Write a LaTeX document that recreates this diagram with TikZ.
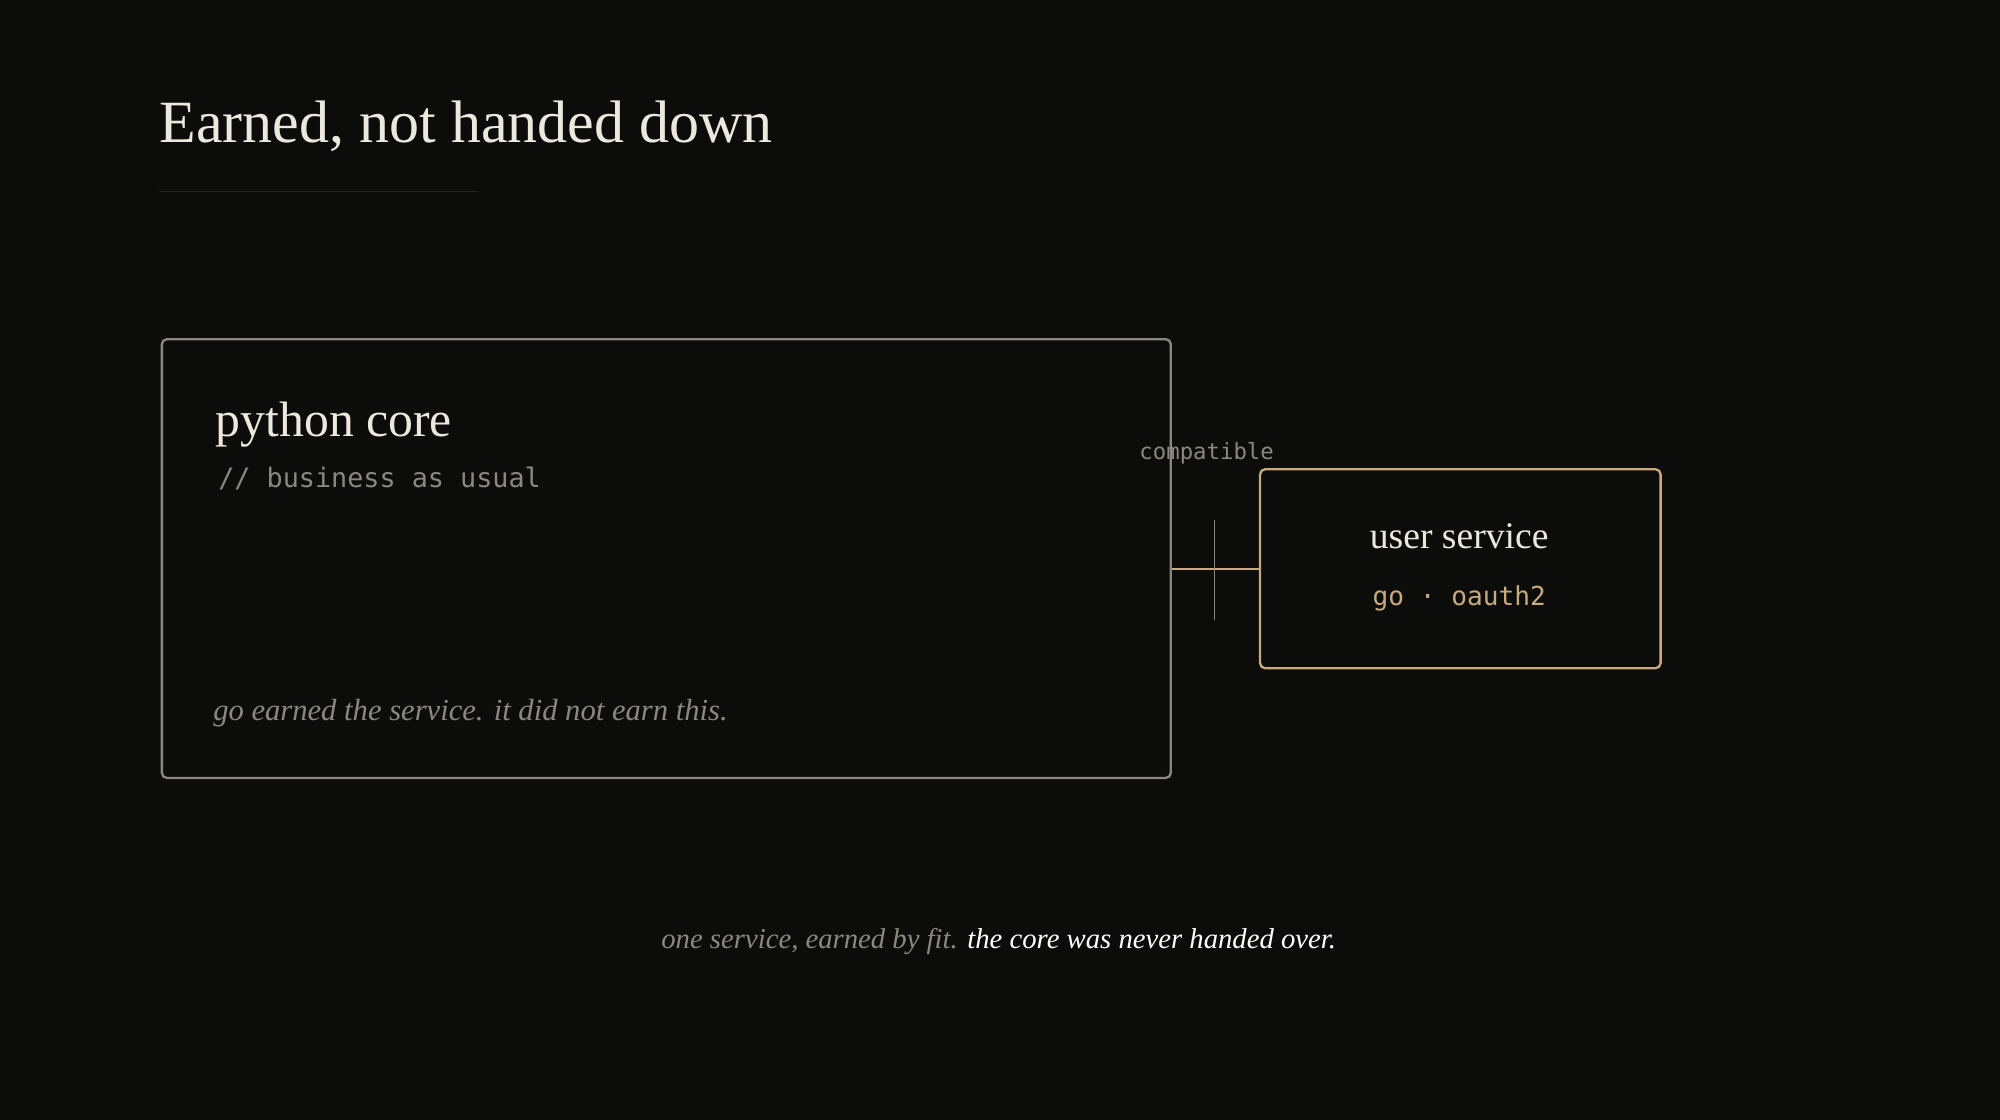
\documentclass[tikz,border=0pt]{standalone}
\usepackage{fontspec}
\setmainfont{Liberation Serif}
\setmonofont{DejaVu Sans Mono}
\definecolor{bg}{HTML}{0C0C0A}
\definecolor{ink}{HTML}{ECE8DE}
\definecolor{dim}{HTML}{8C8880}
\definecolor{tan}{HTML}{C8AA80}
\definecolor{rule}{HTML}{262522}
\begin{document}
\begin{tikzpicture}[x=1pt,y=-1pt,
  txt/.style={inner sep=0pt,anchor=base west},
  boxgray/.style={draw=dim,line width=1.8pt,rounded corners=4pt},
  boxtan/.style={draw=tan,line width=1.8pt,rounded corners=4pt}]
\fill[bg] (0,0) rectangle (1568,878);
\useasboundingbox (0,0) rectangle (1568,878);
\node[txt,text=ink,font=\fontsize{47}{50}\selectfont] (title) at (125,112) {Earned, not handed down};
\coordinate (r1) at (125,150); \coordinate (r2) at (375,150);
\draw[rule,line width=1pt] (r1) -- (r2);
\node[boxgray,minimum width=791pt,minimum height=344pt,anchor=north west,inner sep=0pt] (core) at (126,265) {};
\node[txt,text=ink,font=\fontsize{39}{42}\selectfont] (pc) at (169,342) {python core};
\node[txt,text=dim,font=\ttfamily\fontsize{21}{24}\selectfont] (bau) at (171,382) {// business as usual};
\node[txt,text=dim,font=\itshape\fontsize{24}{28}\selectfont] (earn) at (167,565) {go earned the service. it did not earn this.};
\node[boxtan,minimum width=314pt,minimum height=156pt,anchor=north west,inner sep=0pt] (us) at (987,367) {};
\node[inner sep=0pt,anchor=base,text=ink,font=\fontsize{29.5}{32}\selectfont] (ust) at (1144,430) {user service};
\node[inner sep=0pt,anchor=base,text=tan,font=\ttfamily\fontsize{20.5}{24}\selectfont] (go) at (1144,475) {go · oauth2};
\draw[tan,line width=1.8pt] (core.east |- us.west) -- (us.west);
\coordinate (t1) at (952,408); \coordinate (t2) at (952,486);
\draw[dim,line width=1.2pt] (t1) -- (t2);
\node[inner sep=0pt,anchor=base,text=dim,font=\ttfamily\fontsize{17.5}{20}\selectfont] (comp) at (946,360) {compatible};
\node[inner sep=0pt,anchor=base,font=\itshape\fontsize{22.5}{28}\selectfont] (cap) at (783,744) {\textcolor{dim}{one service, earned by fit.} \textcolor{white}{the core was never handed over.}};
\end{tikzpicture}
\end{document}
